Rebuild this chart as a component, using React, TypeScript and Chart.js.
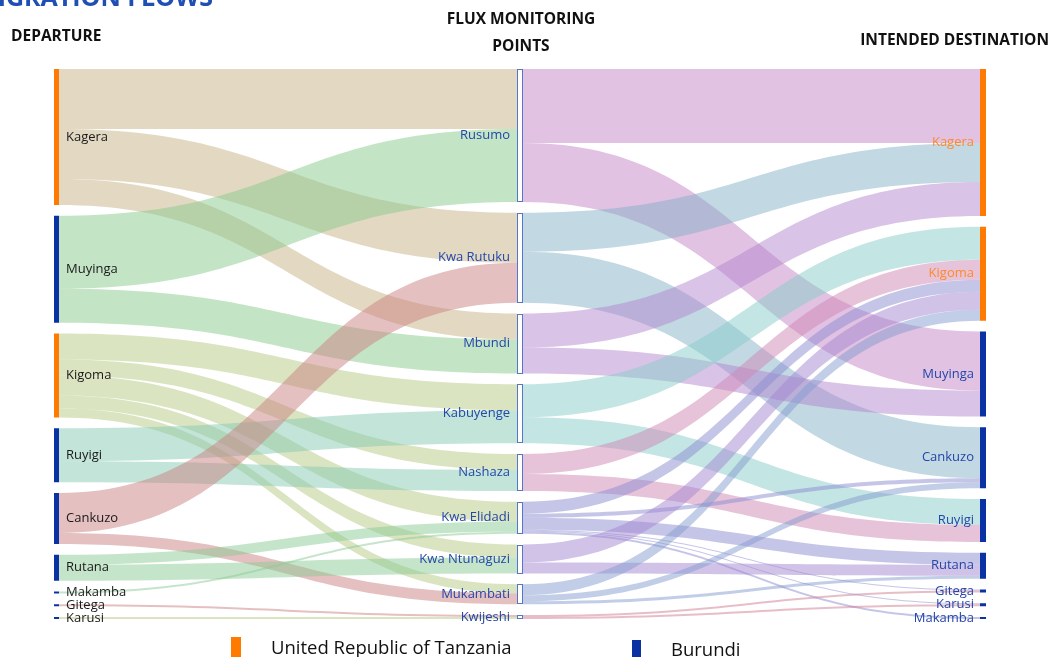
import React, { useEffect, useRef } from 'react';
import { Chart, registerables } from 'chart.js';

Chart.register(...registerables);

// ---------- DATA ----------
const departureNodes = ['Kagera', 'Muyinga', 'Kigoma', 'Ruyigi', 'Cankuzo', 'Rutana', 'Makamba', 'Gitega', 'Karusi'];
const departureCountry = ['TZ', 'BI', 'TZ', 'BI', 'BI', 'BI', 'BI', 'BI', 'BI'];

const monitoringPoints = ['Rusumo', 'Kwa Rutuku', 'Mbundi', 'Kabuyenge', 'Nashaza', 'Kwa Elidadi', 'Kwa Ntunaguzi', 'Mukambati', 'Kwijeshi'];

const destinationNodes = ['Kagera', 'Kigoma', 'Muyinga', 'Cankuzo', 'Ruyigi', 'Rutana', 'Gitega', 'Karusi', 'Makamba'];
const destinationCountry = ['TZ', 'TZ', 'BI', 'BI', 'BI', 'BI', 'BI', 'BI', 'BI'];

// departure -> monitoring point
const departureFlows: [string, string, number][] = [
  ['Kagera', 'Rusumo', 60], ['Kagera', 'Kwa Rutuku', 50], ['Kagera', 'Mbundi', 26],
  ['Muyinga', 'Rusumo', 73], ['Muyinga', 'Mbundi', 34],
  ['Kigoma', 'Kabuyenge', 26], ['Kigoma', 'Nashaza', 16], ['Kigoma', 'Kwa Elidadi', 20], ['Kigoma', 'Kwa Ntunaguzi', 13], ['Kigoma', 'Mukambati', 9],
  ['Ruyigi', 'Kabuyenge', 33], ['Ruyigi', 'Nashaza', 21],
  ['Cankuzo', 'Kwa Rutuku', 40], ['Cankuzo', 'Mukambati', 11],
  ['Rutana', 'Kwa Elidadi', 10], ['Rutana', 'Kwa Ntunaguzi', 16],
  ['Makamba', 'Kwa Elidadi', 2], ['Gitega', 'Kwijeshi', 2], ['Karusi', 'Kwijeshi', 2],
];

// monitoring point -> intended destination
const destinationFlows: [string, string, number][] = [
  ['Rusumo', 'Kagera', 74], ['Rusumo', 'Muyinga', 59],
  ['Kwa Rutuku', 'Kagera', 39], ['Kwa Rutuku', 'Cankuzo', 51],
  ['Mbundi', 'Kagera', 34], ['Mbundi', 'Muyinga', 26],
  ['Kabuyenge', 'Kigoma', 33], ['Kabuyenge', 'Ruyigi', 26],
  ['Nashaza', 'Kigoma', 20], ['Nashaza', 'Ruyigi', 17],
  ['Kwa Elidadi', 'Kigoma', 12], ['Kwa Elidadi', 'Cankuzo', 4], ['Kwa Elidadi', 'Rutana', 12], ['Kwa Elidadi', 'Gitega', 1], ['Kwa Elidadi', 'Karusi', 1], ['Kwa Elidadi', 'Makamba', 2],
  ['Kwa Ntunaguzi', 'Kigoma', 18], ['Kwa Ntunaguzi', 'Rutana', 11],
  ['Mukambati', 'Kigoma', 11], ['Mukambati', 'Cankuzo', 6], ['Mukambati', 'Rutana', 3],
  ['Kwijeshi', 'Gitega', 2], ['Kwijeshi', 'Karusi', 2],
];

const legendLabels = ['United Republic of Tanzania', 'Burundi'];

// ---------- STYLE ----------
const COUNTRY_COLOR: Record<string, string> = { TZ: '#ff7a00', BI: '#0a32a3' };
const LEFT_LINK_COLOR: Record<string, string> = {
  Kagera: 'rgba(199,179,135,0.5)',
  Muyinga: 'rgba(137,201,141,0.5)',
  Kigoma: 'rgba(181,201,131,0.5)',
  Ruyigi: 'rgba(135,203,179,0.5)',
  Cankuzo: 'rgba(203,129,129,0.5)',
  Rutana: 'rgba(139,203,149,0.5)',
  Makamba: 'rgba(139,203,149,0.5)',
  Gitega: 'rgba(203,129,129,0.5)',
  Karusi: 'rgba(181,201,131,0.5)',
};
const MID_LINK_COLOR: Record<string, string> = {
  Rusumo: 'rgba(197,133,197,0.5)',
  'Kwa Rutuku': 'rgba(133,177,199,0.5)',
  Mbundi: 'rgba(179,135,207,0.5)',
  Kabuyenge: 'rgba(135,205,201,0.5)',
  Nashaza: 'rgba(207,135,181,0.5)',
  'Kwa Elidadi': 'rgba(139,139,209,0.5)',
  'Kwa Ntunaguzi': 'rgba(163,135,209,0.5)',
  Mukambati: 'rgba(133,155,207,0.5)',
  Kwijeshi: 'rgba(207,125,145,0.5)',
};

const NODE_GAP = 10.75;
const LEFT_W = 5;
const MID_W = 6;
const RIGHT_W = 6;
const FONT = '"Open Sans", "Noto Sans", sans-serif';

function total(flows: [string, string, number][]) {
  return flows.reduce((s, f) => s + f[2], 0);
}
const SPAN = total(departureFlows) + NODE_GAP * (departureNodes.length - 1);

type NodeBox = { y0: number; y1: number; inOff: number; outOff: number };

function layoutColumn(names: string[], valueOf: (n: string) => number) {
  const res: Record<string, NodeBox> = {};
  let y = 0;
  names.forEach((n) => {
    const v = valueOf(n);
    res[n] = { y0: y, y1: y + v, inOff: y, outOff: y };
    y += v + NODE_GAP;
  });
  return res;
}

const sankeyPlugin = {
  id: 'sankeyPlugin',
  afterDatasetsDraw(chart: any) {
    const ctx: CanvasRenderingContext2D = chart.ctx;
    const xs = chart.scales.x;
    const ys = chart.scales.y;

    const outSum = (flows: [string, string, number][], n: string) => flows.filter((f) => f[0] === n).reduce((s, f) => s + f[2], 0);
    const inSum = (flows: [string, string, number][], n: string) => flows.filter((f) => f[1] === n).reduce((s, f) => s + f[2], 0);

    const L = layoutColumn(departureNodes, (n) => outSum(departureFlows, n));
    const M = layoutColumn(monitoringPoints, (n) => Math.max(inSum(departureFlows, n), outSum(destinationFlows, n)));
    const R = layoutColumn(destinationNodes, (n) => inSum(destinationFlows, n));

    const xL = xs.getPixelForValue(0);
    const xM = xs.getPixelForValue(1);
    const xR = xs.getPixelForValue(2);

    const drawLink = (x0: number, x1: number, s0: number, s1: number, t0: number, t1: number, color: string) => {
      const xm = (x0 + x1) / 2;
      const a0 = ys.getPixelForValue(s0);
      const a1 = ys.getPixelForValue(s1);
      const b0 = ys.getPixelForValue(t0);
      const b1 = ys.getPixelForValue(t1);
      ctx.beginPath();
      ctx.moveTo(x0, a0);
      ctx.bezierCurveTo(xm, a0, xm, b0, x1, b0);
      ctx.lineTo(x1, b1);
      ctx.bezierCurveTo(xm, b1, xm, a1, x0, a1);
      ctx.closePath();
      ctx.fillStyle = color;
      ctx.fill();
    };

    ctx.save();
    const sortFlows = (flows: [string, string, number][], srcOrder: string[], tgtOrder: string[]) =>
      flows.slice().sort((a, b) => srcOrder.indexOf(a[0]) - srcOrder.indexOf(b[0]) || tgtOrder.indexOf(a[1]) - tgtOrder.indexOf(b[1]));

    const dep = sortFlows(departureFlows, departureNodes, monitoringPoints);
    const depIn = new Map<any, number>();
    monitoringPoints.forEach((m) => {
      dep.filter((f) => f[1] === m).forEach((f) => {
        depIn.set(f, M[m].inOff);
        M[m].inOff += f[2];
      });
    });
    dep.forEach((f) => {
      const s = L[f[0]];
      const s0 = s.outOff;
      s.outOff += f[2];
      const t0 = depIn.get(f)!;
      drawLink(xL + LEFT_W, xM - MID_W / 2, s0, s0 + f[2], t0, t0 + f[2], LEFT_LINK_COLOR[f[0]]);
    });

    const des = sortFlows(destinationFlows, monitoringPoints, destinationNodes);
    const desIn = new Map<any, number>();
    destinationNodes.forEach((r) => {
      des.filter((f) => f[1] === r).forEach((f) => {
        desIn.set(f, R[r].inOff);
        R[r].inOff += f[2];
      });
    });
    des.forEach((f) => {
      const s = M[f[0]];
      const s0 = s.outOff;
      s.outOff += f[2];
      const t0 = desIn.get(f)!;
      drawLink(xM + MID_W / 2, xR - RIGHT_W, s0, s0 + f[2], t0, t0 + f[2], MID_LINK_COLOR[f[0]]);
    });

    // nodes
    departureNodes.forEach((n, i) => {
      const b = L[n];
      const y0 = ys.getPixelForValue(b.y0);
      const y1 = ys.getPixelForValue(b.y1);
      ctx.fillStyle = COUNTRY_COLOR[departureCountry[i]];
      ctx.fillRect(xL, y0, LEFT_W, Math.max(2, y1 - y0));
    });
    monitoringPoints.forEach((n) => {
      const b = M[n];
      const y0 = ys.getPixelForValue(b.y0);
      const y1 = ys.getPixelForValue(b.y1);
      ctx.fillStyle = '#ffffff';
      ctx.fillRect(xM - MID_W / 2, y0, MID_W, y1 - y0);
      ctx.strokeStyle = '#5577c8';
      ctx.lineWidth = 1;
      ctx.strokeRect(Math.round(xM - MID_W / 2) + 0.5, Math.round(y0) + 0.5, MID_W - 1, Math.max(2, Math.round(y1 - y0) - 1));
    });
    destinationNodes.forEach((n, i) => {
      const b = R[n];
      const y0 = ys.getPixelForValue(b.y0);
      const y1 = ys.getPixelForValue(b.y1);
      ctx.fillStyle = COUNTRY_COLOR[destinationCountry[i]];
      ctx.fillRect(xR - RIGHT_W, y0, RIGHT_W, Math.max(2, y1 - y0));
    });

    // labels
    ctx.font = `13px ${FONT}`;
    ctx.textBaseline = 'middle';
    ctx.textAlign = 'left';
    ctx.fillStyle = '#1a1a1a';
    departureNodes.forEach((n) => {
      const b = L[n];
      const yc = ys.getPixelForValue((b.y0 + b.y1) / 2);
      ctx.fillText(n, xL + LEFT_W + 7, yc);
    });
    ctx.textAlign = 'right';
    ctx.fillStyle = '#2447a8';
    monitoringPoints.forEach((n) => {
      const b = M[n];
      const yc = ys.getPixelForValue((b.y0 + b.y1) / 2);
      ctx.fillText(n, xM - MID_W / 2 - 7, yc);
    });
    destinationNodes.forEach((n, i) => {
      const b = R[n];
      const yc = ys.getPixelForValue((b.y0 + b.y1) / 2);
      ctx.fillStyle = destinationCountry[i] === 'TZ' ? '#ff8a2a' : '#2447a8';
      ctx.fillText(n, xR - RIGHT_W - 6, yc);
    });
    ctx.restore();
  },
};

export default function App() {
  const ref = useRef<HTMLCanvasElement>(null);
  useEffect(() => {
    const canvas = ref.current!;
    const chart = new Chart(canvas, {
      type: 'scatter',
      data: { datasets: [{ data: [] }] },
      options: {
        responsive: false,
        animation: false,
        layout: { padding: { left: 54, right: 64, top: 69, bottom: 38 } },
        scales: {
          x: { type: 'linear', min: 0, max: 2, display: false },
          y: { type: 'linear', min: 0, max: SPAN, reverse: true, display: false },
        },
        plugins: { legend: { display: false }, tooltip: { enabled: false } },
      },
      plugins: [sankeyPlugin],
    } as any);
    return () => chart.destroy();
  }, []);

  const hdr: React.CSSProperties = {
    position: 'absolute',
    fontFamily: FONT,
    fontWeight: 700,
    fontSize: 15.5,
    lineHeight: '20px',
    color: '#111',
    whiteSpace: 'nowrap',
  };

  return (
    <div style={{ position: 'fixed', left: 0, top: 0, width: 1050, height: 657, background: '#fff', overflow: 'hidden' }}>
      <canvas ref={ref} width={1050} height={657} style={{ position: 'absolute', left: 0, top: 0 }} />
      <div style={{ position: 'absolute', left: -200, width: 413, top: -17, textAlign: 'right', fontFamily: FONT, fontWeight: 700, fontSize: 25, lineHeight: '26px', color: '#1f4fb4', whiteSpace: 'nowrap' }}>
        MIGRATION FLOWS
      </div>
      <div style={{ ...hdr, left: 11, top: 25 }}>DEPARTURE</div>
      <div style={{ ...hdr, left: 421, width: 200, textAlign: 'center', top: 8 }}>FLUX MONITORING</div>
      <div style={{ ...hdr, left: 421, width: 200, textAlign: 'center', top: 35 }}>POINTS</div>
      <div style={{ ...hdr, right: 1, top: 29 }}>INTENDED DESTINATION</div>
      <div style={{ position: 'absolute', left: 231, top: 637, width: 10, height: 20, background: COUNTRY_COLOR.TZ }} />
      <div style={{ position: 'absolute', left: 271, top: 636, fontFamily: FONT, fontSize: 18.5, lineHeight: '22px', color: '#111', whiteSpace: 'nowrap' }}>
        {legendLabels[0]}
      </div>
      <div style={{ position: 'absolute', left: 632, top: 640, width: 9, height: 17, background: COUNTRY_COLOR.BI }} />
      <div style={{ position: 'absolute', left: 671, top: 638, fontFamily: FONT, fontSize: 18.5, lineHeight: '22px', color: '#111', whiteSpace: 'nowrap' }}>
        {legendLabels[1]}
      </div>
    </div>
  );
}
